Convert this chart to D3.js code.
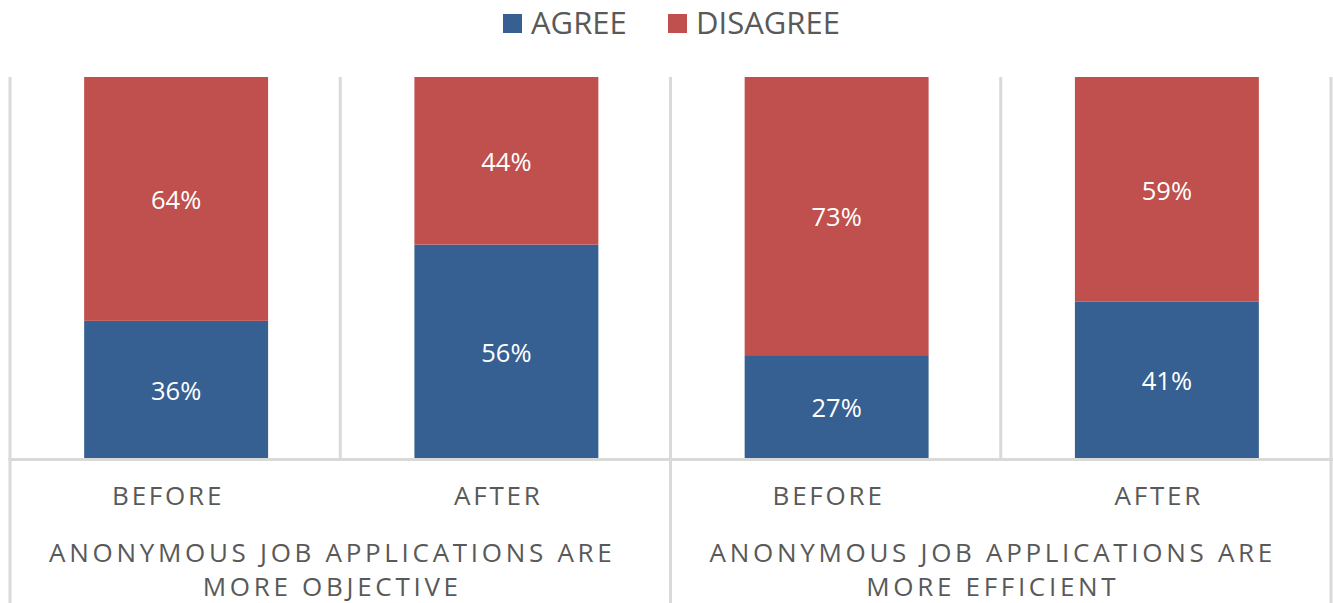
<!DOCTYPE html>
<html>
  <head>
    <meta charset="utf-8">
    <script src="https://d3js.org/d3.v7.min.js"></script>
    <style>
      body { margin: 0; background: #fff; font-family: "Open Sans", sans-serif; }
      .grid line { stroke: #d9d9d9; stroke-width: 3px; }
      .lbl { fill: #fff; font-size: 25.5px; text-anchor: middle; }
      .cat { fill: #595959; font-size: 26px; letter-spacing: 2.8px; text-anchor: middle; }
      .grp { fill: #595959; font-size: 26px; letter-spacing: 3.7px; text-anchor: middle; }
      .leg { fill: #595959; font-size: 31px; }
    </style>
  </head>
  <body>
    <div id="chart"></div>
    <script>
      var categories = ["BEFORE", "AFTER", "BEFORE", "AFTER"]
      var groups = [
        ["ANONYMOUS JOB APPLICATIONS ARE", "MORE OBJECTIVE"],
        ["ANONYMOUS JOB APPLICATIONS ARE", "MORE EFFICIENT"]
      ]
      var agree = [36, 56, 27, 41]
      var disagree = [64, 44, 73, 59]
      var seriesNames = ["AGREE", "DISAGREE"]
      var colors = ["#376092", "#c0504d"]

      var width = 1333, height = 603
      var plotLeft = 10, plotRight = 1331, plotTop = 77, plotBase = 458

      var svg = d3.select("#chart").append("svg")
        .attr("width", width)
        .attr("height", height)

      var x = d3.scaleBand().domain(d3.range(categories.length))
        .range([plotLeft, plotRight]).paddingInner(0.443).paddingOuter(0.2215)
      var y = d3.scaleLinear().domain([0, 100]).range([plotBase, plotTop])

      // grid / category separators
      var grid = svg.append("g").attr("class", "grid")
      var step = x.step()
      var seps = d3.range(categories.length + 1).map(function(i){ return plotLeft + i * step })
      grid.selectAll(".sep").data(seps).enter().append("line")
        .attr("x1", function(d){ return d }).attr("x2", function(d){ return d })
        .attr("y1", y(100)).attr("y2", plotBase + 1)
      grid.append("line")
        .attr("x1", plotLeft - 1.5).attr("x2", width)
        .attr("y1", plotBase + 1.5).attr("y2", plotBase + 1.5)
      var outer = [seps[0], seps[2], seps[4]]
      grid.selectAll(".gsep").data(outer).enter().append("line")
        .attr("x1", function(d){ return d }).attr("x2", function(d){ return d })
        .attr("y1", plotBase).attr("y2", height)

      // stacked bars
      var rows = categories.map(function(c, i){ return { i: i, AGREE: agree[i], DISAGREE: disagree[i] } })
      var stack = d3.stack().keys(seriesNames)(rows)

      var layers = svg.selectAll(".layer").data(stack).enter().append("g")
        .attr("fill", function(d, i){ return colors[i] })
      layers.selectAll("rect").data(function(d){ return d }).enter().append("rect")
        .attr("x", function(d){ return x(d.data.i) + 1 })
        .attr("width", x.bandwidth())
        .attr("y", function(d){ return y(d[1]) })
        .attr("height", function(d){ return y(d[0]) - y(d[1]) })

      layers.selectAll("text").data(function(d){ return d }).enter().append("text")
        .attr("class", "lbl")
        .attr("x", function(d){ return x(d.data.i) + 1 + x.bandwidth() / 2 })
        .attr("y", function(d){ return (y(d[0]) + y(d[1])) / 2 + 1 })
        .attr("dy", "0.36em")
        .text(function(d){ return (d[1] - d[0]) + "%" })

      // category labels
      svg.selectAll(".cat").data(categories).enter().append("text")
        .attr("class", "cat")
        .attr("x", function(d, i){ return x(i) + x.bandwidth() / 2 - 7 })
        .attr("y", 505)
        .text(function(d){ return d })

      // group labels
      groups.forEach(function(lines, g){
        var cx = plotLeft + step * (2 * g + 1) - 8
        lines.forEach(function(t, k){
          svg.append("text").attr("class", "grp")
            .attr("x", cx).attr("y", 562 + k * 34)
            .text(t)
        })
      })

      // legend
      var legX = [503, 668]
      var leg = svg.selectAll(".legitem").data(seriesNames).enter().append("g")
        .attr("transform", function(d, i){ return "translate(" + legX[i] + ",14)" })
      leg.append("rect").attr("width", 19).attr("height", 19)
        .attr("fill", function(d, i){ return colors[i] })
      leg.append("text").attr("class", "leg")
        .attr("x", 28).attr("y", 20)
        .text(function(d){ return d })
    </script>
  </body>
</html>
